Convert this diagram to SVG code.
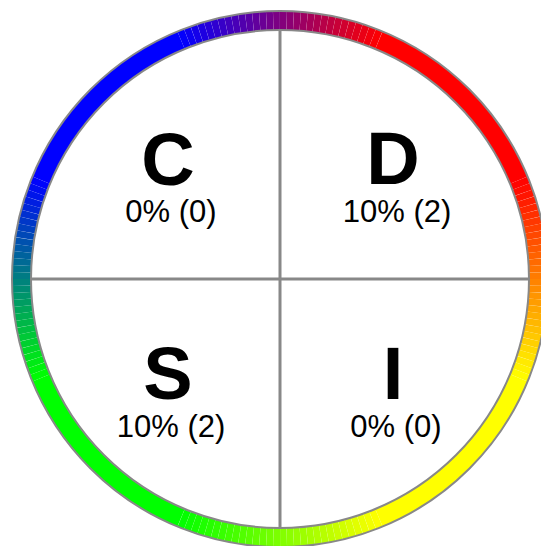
<svg xmlns="http://www.w3.org/2000/svg" xmlns:xlink="http://www.w3.org/1999/xlink" width="541" height="546" viewBox="0 0 541 546">
<style>
.big{font-family:"Liberation Sans",Arial,sans-serif;font-weight:bold;font-size:74px;fill:#000;text-anchor:middle}
.pct{font-family:"Liberation Sans",Arial,sans-serif;font-size:31px;fill:#000;text-anchor:middle}
.edge{fill:none;stroke:#888;stroke-width:2}
.div{stroke:#888;stroke-width:3}
</style>
<defs>
<circle id="seg" cx="280" cy="279" r="258.5" fill="none" stroke-width="19" pathLength="360" stroke-dasharray="1.5 358.5"/>
<circle id="solid" cx="280" cy="279" r="258.5" fill="none" stroke-width="19" pathLength="360" stroke-dasharray="45 315"/>
</defs>
<rect width="541" height="546" fill="#fff"/>
<g id="ring">
<use href="#solid" stroke="#ff0000" transform="rotate(-67.5 280 279)"/>
<use href="#solid" stroke="#ffff00" transform="rotate(22.5 280 279)"/>
<use href="#solid" stroke="#00ff00" transform="rotate(112.5 280 279)"/>
<use href="#solid" stroke="#0000ff" transform="rotate(202.5 280 279)"/>
<g id="grad-blue-red">
<use href="#seg" stroke="#0400fb" transform="rotate(-112.5 280 279)"/>
<use href="#seg" stroke="#0d00f2" transform="rotate(-111 280 279)"/>
<use href="#seg" stroke="#1500ea" transform="rotate(-109.5 280 279)"/>
<use href="#seg" stroke="#1e00e1" transform="rotate(-108 280 279)"/>
<use href="#seg" stroke="#2600d9" transform="rotate(-106.5 280 279)"/>
<use href="#seg" stroke="#2f00d0" transform="rotate(-105 280 279)"/>
<use href="#seg" stroke="#3700c8" transform="rotate(-103.5 280 279)"/>
<use href="#seg" stroke="#4000bf" transform="rotate(-102 280 279)"/>
<use href="#seg" stroke="#4800b7" transform="rotate(-100.5 280 279)"/>
<use href="#seg" stroke="#5100ae" transform="rotate(-99 280 279)"/>
<use href="#seg" stroke="#5900a6" transform="rotate(-97.5 280 279)"/>
<use href="#seg" stroke="#62009d" transform="rotate(-96 280 279)"/>
<use href="#seg" stroke="#6a0095" transform="rotate(-94.5 280 279)"/>
<use href="#seg" stroke="#73008c" transform="rotate(-93 280 279)"/>
<use href="#seg" stroke="#7b0084" transform="rotate(-91.5 280 279)"/>
<use href="#seg" stroke="#84007b" transform="rotate(-90 280 279)"/>
<use href="#seg" stroke="#8c0073" transform="rotate(-88.5 280 279)"/>
<use href="#seg" stroke="#95006a" transform="rotate(-87 280 279)"/>
<use href="#seg" stroke="#9d0062" transform="rotate(-85.5 280 279)"/>
<use href="#seg" stroke="#a60059" transform="rotate(-84 280 279)"/>
<use href="#seg" stroke="#ae0051" transform="rotate(-82.5 280 279)"/>
<use href="#seg" stroke="#b70048" transform="rotate(-81 280 279)"/>
<use href="#seg" stroke="#bf0040" transform="rotate(-79.5 280 279)"/>
<use href="#seg" stroke="#c80037" transform="rotate(-78 280 279)"/>
<use href="#seg" stroke="#d0002f" transform="rotate(-76.5 280 279)"/>
<use href="#seg" stroke="#d90026" transform="rotate(-75 280 279)"/>
<use href="#seg" stroke="#e1001e" transform="rotate(-73.5 280 279)"/>
<use href="#seg" stroke="#ea0015" transform="rotate(-72 280 279)"/>
<use href="#seg" stroke="#f2000d" transform="rotate(-70.5 280 279)"/>
<use href="#seg" stroke="#fb0004" transform="rotate(-69 280 279)"/>
</g>
<g id="grad-red-yellow">
<use href="#seg" stroke="#ff0400" transform="rotate(-22.5 280 279)"/>
<use href="#seg" stroke="#ff0d00" transform="rotate(-21 280 279)"/>
<use href="#seg" stroke="#ff1500" transform="rotate(-19.5 280 279)"/>
<use href="#seg" stroke="#ff1e00" transform="rotate(-18 280 279)"/>
<use href="#seg" stroke="#ff2600" transform="rotate(-16.5 280 279)"/>
<use href="#seg" stroke="#ff2f00" transform="rotate(-15 280 279)"/>
<use href="#seg" stroke="#ff3700" transform="rotate(-13.5 280 279)"/>
<use href="#seg" stroke="#ff4000" transform="rotate(-12 280 279)"/>
<use href="#seg" stroke="#ff4800" transform="rotate(-10.5 280 279)"/>
<use href="#seg" stroke="#ff5100" transform="rotate(-9 280 279)"/>
<use href="#seg" stroke="#ff5900" transform="rotate(-7.5 280 279)"/>
<use href="#seg" stroke="#ff6200" transform="rotate(-6 280 279)"/>
<use href="#seg" stroke="#ff6a00" transform="rotate(-4.5 280 279)"/>
<use href="#seg" stroke="#ff7300" transform="rotate(-3 280 279)"/>
<use href="#seg" stroke="#ff7b00" transform="rotate(-1.5 280 279)"/>
<use href="#seg" stroke="#ff8400" transform="rotate(0 280 279)"/>
<use href="#seg" stroke="#ff8c00" transform="rotate(1.5 280 279)"/>
<use href="#seg" stroke="#ff9500" transform="rotate(3 280 279)"/>
<use href="#seg" stroke="#ff9d00" transform="rotate(4.5 280 279)"/>
<use href="#seg" stroke="#ffa600" transform="rotate(6 280 279)"/>
<use href="#seg" stroke="#ffae00" transform="rotate(7.5 280 279)"/>
<use href="#seg" stroke="#ffb700" transform="rotate(9 280 279)"/>
<use href="#seg" stroke="#ffbf00" transform="rotate(10.5 280 279)"/>
<use href="#seg" stroke="#ffc800" transform="rotate(12 280 279)"/>
<use href="#seg" stroke="#ffd000" transform="rotate(13.5 280 279)"/>
<use href="#seg" stroke="#ffd900" transform="rotate(15 280 279)"/>
<use href="#seg" stroke="#ffe100" transform="rotate(16.5 280 279)"/>
<use href="#seg" stroke="#ffea00" transform="rotate(18 280 279)"/>
<use href="#seg" stroke="#fff200" transform="rotate(19.5 280 279)"/>
<use href="#seg" stroke="#fffb00" transform="rotate(21 280 279)"/>
</g>
<g id="grad-yellow-green">
<use href="#seg" stroke="#fbff00" transform="rotate(67.5 280 279)"/>
<use href="#seg" stroke="#f2ff00" transform="rotate(69 280 279)"/>
<use href="#seg" stroke="#eaff00" transform="rotate(70.5 280 279)"/>
<use href="#seg" stroke="#e1ff00" transform="rotate(72 280 279)"/>
<use href="#seg" stroke="#d9ff00" transform="rotate(73.5 280 279)"/>
<use href="#seg" stroke="#d0ff00" transform="rotate(75 280 279)"/>
<use href="#seg" stroke="#c8ff00" transform="rotate(76.5 280 279)"/>
<use href="#seg" stroke="#bfff00" transform="rotate(78 280 279)"/>
<use href="#seg" stroke="#b7ff00" transform="rotate(79.5 280 279)"/>
<use href="#seg" stroke="#aeff00" transform="rotate(81 280 279)"/>
<use href="#seg" stroke="#a6ff00" transform="rotate(82.5 280 279)"/>
<use href="#seg" stroke="#9dff00" transform="rotate(84 280 279)"/>
<use href="#seg" stroke="#95ff00" transform="rotate(85.5 280 279)"/>
<use href="#seg" stroke="#8cff00" transform="rotate(87 280 279)"/>
<use href="#seg" stroke="#84ff00" transform="rotate(88.5 280 279)"/>
<use href="#seg" stroke="#7bff00" transform="rotate(90 280 279)"/>
<use href="#seg" stroke="#73ff00" transform="rotate(91.5 280 279)"/>
<use href="#seg" stroke="#6aff00" transform="rotate(93 280 279)"/>
<use href="#seg" stroke="#62ff00" transform="rotate(94.5 280 279)"/>
<use href="#seg" stroke="#59ff00" transform="rotate(96 280 279)"/>
<use href="#seg" stroke="#51ff00" transform="rotate(97.5 280 279)"/>
<use href="#seg" stroke="#48ff00" transform="rotate(99 280 279)"/>
<use href="#seg" stroke="#40ff00" transform="rotate(100.5 280 279)"/>
<use href="#seg" stroke="#37ff00" transform="rotate(102 280 279)"/>
<use href="#seg" stroke="#2fff00" transform="rotate(103.5 280 279)"/>
<use href="#seg" stroke="#26ff00" transform="rotate(105 280 279)"/>
<use href="#seg" stroke="#1eff00" transform="rotate(106.5 280 279)"/>
<use href="#seg" stroke="#15ff00" transform="rotate(108 280 279)"/>
<use href="#seg" stroke="#0dff00" transform="rotate(109.5 280 279)"/>
<use href="#seg" stroke="#04ff00" transform="rotate(111 280 279)"/>
</g>
<g id="grad-green-blue">
<use href="#seg" stroke="#00fb04" transform="rotate(157.5 280 279)"/>
<use href="#seg" stroke="#00f20d" transform="rotate(159 280 279)"/>
<use href="#seg" stroke="#00ea15" transform="rotate(160.5 280 279)"/>
<use href="#seg" stroke="#00e11e" transform="rotate(162 280 279)"/>
<use href="#seg" stroke="#00d926" transform="rotate(163.5 280 279)"/>
<use href="#seg" stroke="#00d02f" transform="rotate(165 280 279)"/>
<use href="#seg" stroke="#00c837" transform="rotate(166.5 280 279)"/>
<use href="#seg" stroke="#00bf40" transform="rotate(168 280 279)"/>
<use href="#seg" stroke="#00b748" transform="rotate(169.5 280 279)"/>
<use href="#seg" stroke="#00ae51" transform="rotate(171 280 279)"/>
<use href="#seg" stroke="#00a659" transform="rotate(172.5 280 279)"/>
<use href="#seg" stroke="#009d62" transform="rotate(174 280 279)"/>
<use href="#seg" stroke="#00956a" transform="rotate(175.5 280 279)"/>
<use href="#seg" stroke="#008c73" transform="rotate(177 280 279)"/>
<use href="#seg" stroke="#00847b" transform="rotate(178.5 280 279)"/>
<use href="#seg" stroke="#007b84" transform="rotate(180 280 279)"/>
<use href="#seg" stroke="#00738c" transform="rotate(181.5 280 279)"/>
<use href="#seg" stroke="#006a95" transform="rotate(183 280 279)"/>
<use href="#seg" stroke="#00629d" transform="rotate(184.5 280 279)"/>
<use href="#seg" stroke="#0059a6" transform="rotate(186 280 279)"/>
<use href="#seg" stroke="#0051ae" transform="rotate(187.5 280 279)"/>
<use href="#seg" stroke="#0048b7" transform="rotate(189 280 279)"/>
<use href="#seg" stroke="#0040bf" transform="rotate(190.5 280 279)"/>
<use href="#seg" stroke="#0037c8" transform="rotate(192 280 279)"/>
<use href="#seg" stroke="#002fd0" transform="rotate(193.5 280 279)"/>
<use href="#seg" stroke="#0026d9" transform="rotate(195 280 279)"/>
<use href="#seg" stroke="#001ee1" transform="rotate(196.5 280 279)"/>
<use href="#seg" stroke="#0015ea" transform="rotate(198 280 279)"/>
<use href="#seg" stroke="#000df2" transform="rotate(199.5 280 279)"/>
<use href="#seg" stroke="#0004fb" transform="rotate(201 280 279)"/>
</g>
<circle class="edge" cx="280" cy="279" r="268"/>
<circle class="edge" cx="280" cy="279" r="249"/>
</g>
<g id="dividers">
<line class="div" x1="31" y1="279" x2="529" y2="279"/>
<line class="div" x1="280" y1="30" x2="280" y2="528"/>
</g>
<g id="node-C">
<text class="big" x="168" y="185">C</text>
<text class="pct" x="171" y="222">0% (0)</text>
</g>
<g id="node-D">
<text class="big" x="393" y="184">D</text>
<text class="pct" x="397" y="222">10% (2)</text>
</g>
<g id="node-S">
<text class="big" x="168" y="399">S</text>
<text class="pct" x="171" y="436.5">10% (2)</text>
</g>
<g id="node-I">
<text class="big" x="393" y="399">I</text>
<text class="pct" x="396" y="436.5">0% (0)</text>
</g>
</svg>
